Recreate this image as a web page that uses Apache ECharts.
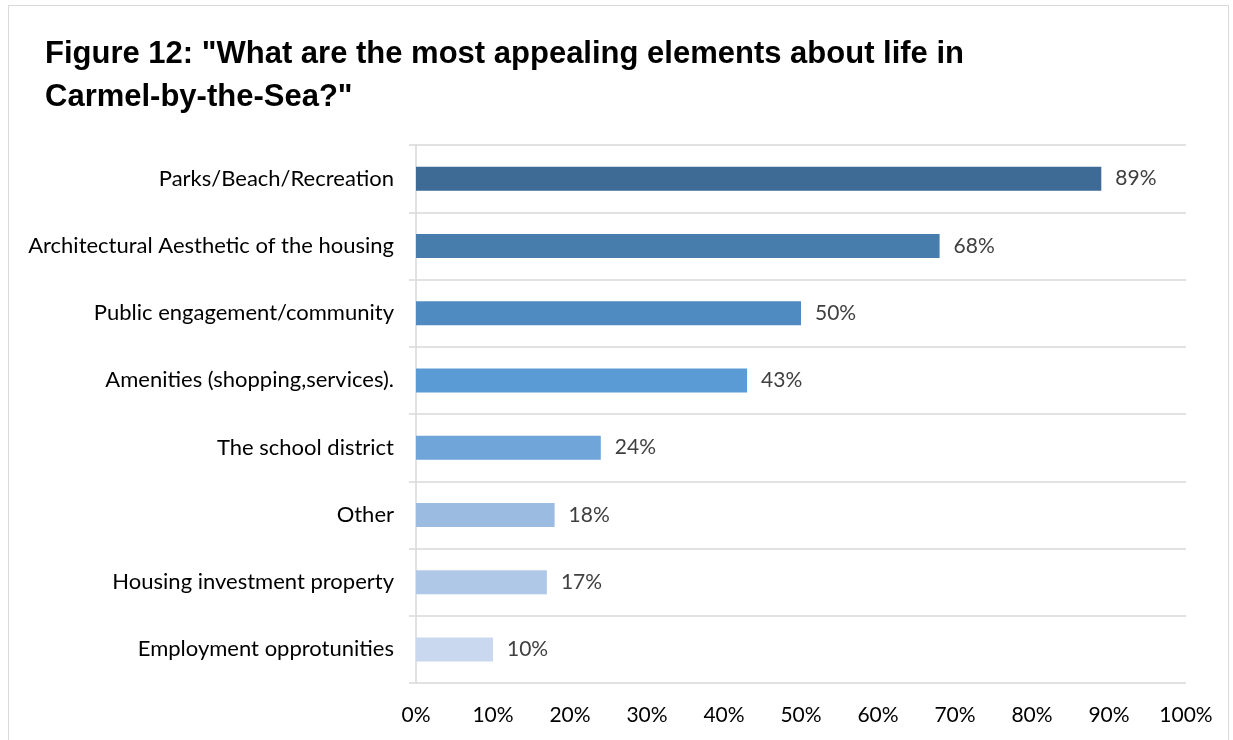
<!DOCTYPE html>
<html>
<head>
<meta charset="utf-8">
<script src="https://cdn.jsdelivr.net/npm/echarts@6/dist/echarts.min.js"></script>
<style>
  html, body { margin: 0; padding: 0; background: #fff; }
  #frame { position: absolute; left: 8px; top: 5px; width: 1219px; height: 760px; border: 1.5px solid #d9d9d9; }
  #main { position: absolute; left: 0; top: 0; width: 1233px; height: 740px; }
</style>
</head>
<body>
<div id="frame"></div>
<div id="main"></div>
<script>
var categories = [
  'Parks/Beach/Recreation',
  'Architectural Aesthetic of the housing',
  'Public engagement/community',
  'Amenities (shopping,services).',
  'The school district',
  'Other',
  'Housing investment property',
  'Employment opprotunities'
];
var values = [89, 68, 50, 43, 24, 18, 17, 10];
var barColors = ['#3e6b96', '#477dad', '#4f8bc1', '#5a9bd5', '#6fa5d9', '#9bbbe1', '#afc8e7', '#c9d8ee'];
var xTicks = [0, 10, 20, 30, 40, 50, 60, 70, 80, 90, 100];

var font = 'Lato, "Open Sans", sans-serif';

var chart = echarts.init(document.getElementById('main'));
chart.setOption({
  backgroundColor: 'transparent',
  animation: false,
  title: {
    text: 'Figure 12: "What are the most appealing elements about life in\nCarmel-by-the-Sea?"',
    left: 40,
    top: 28,
    textStyle: {
      fontFamily: '"Liberation Sans Narrow", "Arial Narrow", "Liberation Sans", sans-serif',
      fontWeight: 'bold',
      fontSize: 31,
      lineHeight: 43,
      color: '#000'
    }
  },
  grid: { left: 416, right: 47, top: 145, bottom: 57 },
  xAxis: {
    type: 'value',
    min: xTicks[0],
    max: xTicks[xTicks.length - 1],
    interval: 10,
    axisLine: { show: false },
    axisTick: { show: false },
    splitLine: { show: false },
    axisLabel: {
      formatter: '{value}%',
      fontFamily: font,
      fontSize: 21,
      color: '#000',
      margin: 22
    }
  },
  yAxis: {
    type: 'category',
    inverse: true,
    data: categories,
    axisLine: { show: true, lineStyle: { color: '#d9d9d9', width: 1.5 } },
    axisTick: { show: true, length: 7, lineStyle: { color: '#d9d9d9', width: 1.5 } },
    splitLine: { show: true, lineStyle: { color: '#d9d9d9', width: 1.5 } },
    axisLabel: {
      fontFamily: font,
      fontSize: 22,
      color: '#000',
      margin: 22
    }
  },
  series: [{
    type: 'bar',
    data: values.map(function (v, i) {
      return { value: v, itemStyle: { color: barColors[i] } };
    }),
    barWidth: 24,
    label: {
      show: true,
      position: 'right',
      distance: 14,
      formatter: '{c}%',
      fontFamily: font,
      fontSize: 21,
      color: '#404040'
    }
  }]
});
</script>
</body>
</html>
